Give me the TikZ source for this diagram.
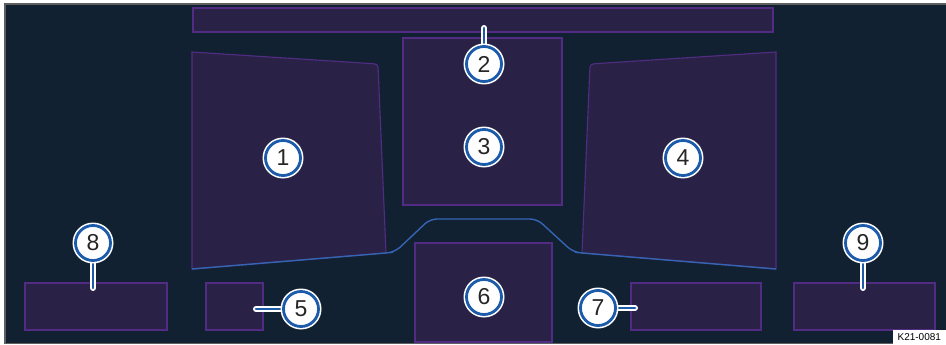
\documentclass[tikz,border=0pt]{standalone}
\usepackage{fontspec}
\setmainfont{Liberation Sans}
\definecolor{bgnavy}{RGB}{18,33,50}
\definecolor{panelfill}{RGB}{41,34,70}
\definecolor{paneledge}{RGB}{82,44,132}
\definecolor{trimblue}{RGB}{52,100,178}
\definecolor{ringblue}{RGB}{28,90,170}
\definecolor{framegray}{RGB}{95,95,95}
\tikzset{
  panel/.style={fill=panelfill, draw=paneledge, line width=1.1pt},
  callout/.style={circle, fill=white, draw=ringblue, line width=2.8pt, minimum size=35pt, inner sep=0pt, font=\fontsize{23}{23}\selectfont, text=black!85},
  halo/.style={circle, fill=white, minimum size=41pt, inner sep=0pt},
  leaderwhite/.style={white, line width=6pt, line cap=round},
  leaderblue/.style={ringblue, line width=2.8pt, line cap=round},
}
\begin{document}
\begin{tikzpicture}[x=1pt, y=-1pt]
\useasboundingbox (0,0) rectangle (946,345);
\fill[white] (0,0) rectangle (946,345);
\fill[bgnavy] (5,4) rectangle (946,343.5);
\draw[framegray, line width=1.5pt] (946,4) -- (5,4) -- (5,343.5) -- (946,343.5);

% top bar
\draw[panel] (193,8) rectangle (773,32);
% center panel 3
\draw[panel] (403,38) rectangle (562,205);
% left panel 1
\draw[panel] (192,269) -- (192,52) -- (370,63.5) .. controls (378,64) .. (378.3,72) -- (386,253) -- cycle;
% right panel 4
\draw[panel] (776,269) -- (776,52) -- (598,63.5) .. controls (590,64) .. (589.7,72) -- (582,253) -- cycle;
% blue trim
\draw[trimblue, line width=1.4pt, rounded corners=7pt] (192,269) -- (386,253) -- (395,252) -- (430,219) -- (537,219) -- (573,252) -- (582,253) -- (776,269);
% lower panels
\draw[panel] (415,243) rectangle (552,342);
\draw[panel] (25,283) rectangle (167,330);
\draw[panel] (206,283) rectangle (263,330);
\draw[panel] (631,283) rectangle (761,330);
\draw[panel] (794,283) rectangle (935,330);

% leader ends
\coordinate (e2) at (484,28);
\coordinate (e8) at (93,288);
\coordinate (e9) at (863,288);
\coordinate (e5) at (256,309);
\coordinate (e7) at (635,308);

% callout positions
\coordinate (p1) at (283,158);
\coordinate (p2) at (484,64);
\coordinate (p3) at (484,147);
\coordinate (p4) at (683,158);
\coordinate (p5) at (301,309);
\coordinate (p6) at (484,297);
\coordinate (p7) at (598,308);
\coordinate (p8) at (93,243);
\coordinate (p9) at (863,243);

% leaders
\foreach \i in {2,8,9,5,7} {\draw[leaderwhite] (p\i) -- (e\i);}
\foreach \i in {2,8,9,5,7} {\draw[leaderblue] (p\i) -- (e\i);}

% callouts
\foreach \i in {1,...,9} {\node[halo] at (p\i) {};}
\node[callout] (c1) at (p1) {1};
\node[callout] (c2) at (p2) {2};
\node[callout] (c3) at (p3) {3};
\node[callout] (c4) at (p4) {4};
\node[callout] (c5) at (p5) {5};
\node[callout] (c6) at (p6) {6};
\node[callout] (c7) at (p7) {7};
\node[callout] (c8) at (p8) {8};
\node[callout] (c9) at (p9) {9};

% figure code
\node[fill=white, inner sep=1.5pt, anchor=south east, font=\fontsize{10}{10}\selectfont, minimum width=53pt, minimum height=15pt] (code) at (946,345) {K21-0081};
\end{tikzpicture}
\end{document}
